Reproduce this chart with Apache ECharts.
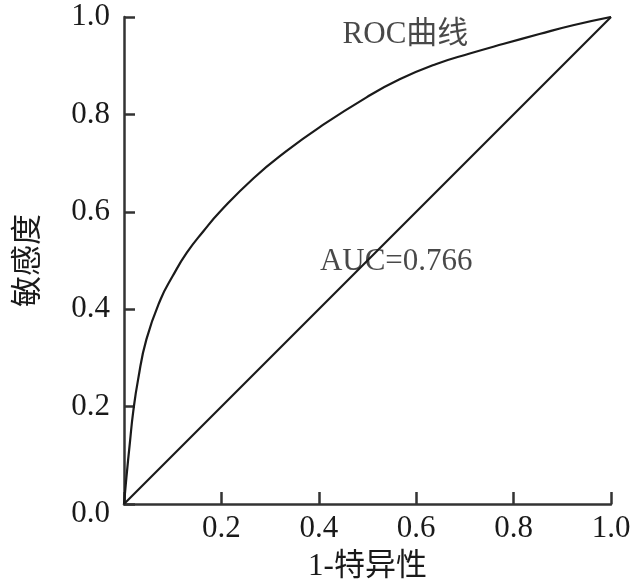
<!DOCTYPE html>
<html>
<head>
<meta charset="utf-8">
<script src="https://cdn.jsdelivr.net/npm/echarts@6/dist/echarts.min.js"></script>
<style>
  html, body { margin: 0; padding: 0; background: #fff; }
  #chart { width: 638px; height: 587px; }
</style>
</head>
<body>
<div id="chart"></div>
<script>
// ROC curve points: [1-特异性, 敏感度]
const rocX = [0, 0.005, 0.012, 0.019, 0.029, 0.046, 0.075, 0.100, 0.129, 0.163, 0.197, 0.266, 0.334, 0.402, 0.498, 0.566, 0.640, 0.710, 0.780, 0.853, 0.922, 1];
const rocY = [0, 0.055, 0.125, 0.190, 0.256, 0.338, 0.420, 0.468, 0.516, 0.560, 0.600, 0.669, 0.725, 0.774, 0.835, 0.872, 0.903, 0.925, 0.945, 0.965, 0.983, 1];
const diagX = [0, 1];
const diagY = [0, 1];
const rocLabel = 'ROC曲线';
const aucLabel = 'AUC=0.766';

const serif = '"Liberation Serif", "Noto Sans CJK SC", serif';
const ink = '#1a1a1a';
const axisInk = '#333';

const chart = echarts.init(document.getElementById('chart'));

chart.setOption({
  backgroundColor: '#fff',
  animation: false,
  grid: { left: 124, right: 27, top: 17, bottom: 82 },
  xAxis: {
    type: 'value',
    min: 0,
    max: 1,
    interval: 0.2,
    name: '1-特异性',
    nameLocation: 'middle',
    nameGap: 47,
    nameTextStyle: { fontFamily: serif, fontSize: 31, color: ink },
    axisLine: { lineStyle: { color: axisInk, width: 2.5 } },
    axisTick: { inside: true, length: 12, lineStyle: { color: axisInk, width: 2.5 } },
    axisLabel: {
      fontFamily: serif, fontSize: 31, color: ink, margin: 9,
      formatter: (v) => (v === 0 ? '' : v.toFixed(1)),
    },
    splitLine: { show: false },
  },
  yAxis: {
    type: 'value',
    min: 0,
    max: 1,
    interval: 0.2,
    name: '敏感度',
    nameLocation: 'middle',
    nameGap: 80,
    nameTextStyle: { fontFamily: serif, fontSize: 31, color: ink },
    axisLine: { show: true, lineStyle: { color: axisInk, width: 2.5 } },
    axisTick: { show: true, inside: true, length: 11, lineStyle: { color: axisInk, width: 2.5 } },
    axisLabel: {
      fontFamily: serif, fontSize: 31, color: ink, margin: 14,
      formatter: (v) => (v === 0 ? '{z|0.0}' : v.toFixed(1)),
      rich: { z: { fontFamily: serif, fontSize: 31, color: ink, padding: [20, 0, 0, 0] } },
    },
    splitLine: { show: false },
  },
  series: [
    {
      type: 'line',
      data: rocX.map((x, i) => [x, rocY[i]]),
      smooth: 0.5,
      showSymbol: false,
      lineStyle: { color: ink, width: 2.2 },
    },
    {
      type: 'line',
      data: diagX.map((x, i) => [x, diagY[i]]),
      showSymbol: false,
      lineStyle: { color: ink, width: 2.2 },
    },
    {
      type: 'scatter',
      symbolSize: 0,
      data: [
        { value: [0.578, 0.963], label: { formatter: rocLabel } },
        { value: [0.559, 0.497], label: { formatter: aucLabel } },
      ],
      label: {
        show: true,
        position: 'inside',
        fontFamily: serif,
        fontSize: 31,
        color: ink,
      },
    },
  ],
});
</script>
</body>
</html>
